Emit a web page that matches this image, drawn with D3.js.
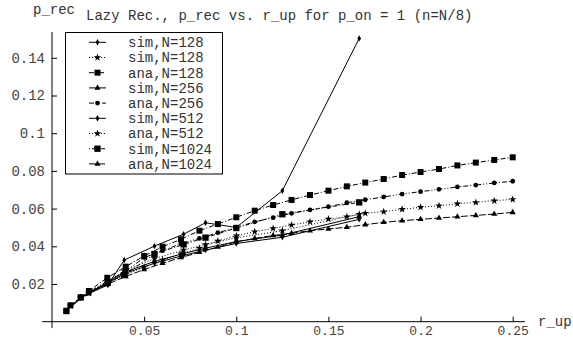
<!DOCTYPE html>
<html><head><meta charset="utf-8">
<script src="https://cdn.jsdelivr.net/npm/d3@7"></script>
<style>
body{margin:0;background:#fff;}
text{font-family:"Liberation Mono","Courier New",monospace;}
</style></head>
<body><svg id="c" width="573" height="341"></svg>
<script>
// ---- data ----
const title = "Lazy Rec., p_rec vs. r_up for p_on = 1 (n=N/8)";
const yLabel = "p_rec";
const xLabel = "r_up";
const xTicks = [0.05, 0.1, 0.15, 0.2, 0.25];
const yTicks = [0.02, 0.04, 0.06, 0.08, 0.1, 0.12, 0.14];
const legendLabels = ["sim,N=128","sim,N=128","ana,N=128","sim,N=256","ana,N=256","sim,N=512","ana,N=512","sim,N=1024","ana,N=1024"];

const simX = [0.0078, 0.0156, 0.0303, 0.0392, 0.0556, 0.0714, 0.0833, 0.1, 0.125, 0.1667];
const sim128  = [0.0055, 0.0130, 0.0195, 0.0327, 0.0401, 0.0464, 0.0525, 0.0500, 0.0695, 0.1503];
const sim128b = [0.0056, 0.0128, 0.0215, 0.0270, 0.0335, 0.0380, 0.0410, 0.0445, 0.0483, 0.0570];
const sim256  = [0.0056, 0.0127, 0.0210, 0.0262, 0.0320, 0.0362, 0.0390, 0.0425, 0.0460, 0.0557];
const sim512  = [0.0055, 0.0126, 0.0205, 0.0255, 0.0310, 0.0352, 0.0380, 0.0415, 0.0448, 0.0543];
const sim1024 = [0.0057, 0.0129, 0.0207, 0.0248, 0.0359, 0.0410, 0.0446, 0.0497, 0.0570, 0.0633];

const anaX = [0.01,0.02,0.03,0.04,0.05,0.06,0.07,0.08,0.09,0.10,0.11,0.12,0.13,0.14,0.15,0.16,0.17,0.18,0.19,0.20,0.21,0.22,0.23,0.24,0.25];
const ana128  = [0.0087,0.0163,0.0233,0.0292,0.0349,0.0398,0.0437,0.0483,0.0518,0.0554,0.0589,0.0619,0.0646,0.0672,0.0695,0.0718,0.0738,0.0757,0.0778,0.0794,0.0810,0.0829,0.0844,0.0858,0.0872];
const ana256  = [0.0086,0.0157,0.0215,0.0268,0.0340,0.0377,0.0414,0.0442,0.0472,0.0500,0.0530,0.0552,0.0575,0.0593,0.0610,0.0631,0.0647,0.0662,0.0677,0.0690,0.0702,0.0715,0.0725,0.0736,0.0745];
const ana512  = [0.0084,0.0152,0.0205,0.0250,0.0290,0.0327,0.0360,0.0390,0.0428,0.0456,0.0477,0.0495,0.0513,0.0530,0.0545,0.0557,0.0575,0.0584,0.0596,0.0607,0.0615,0.0626,0.0633,0.0642,0.0649];
const ana1024 = [0.0083,0.0148,0.0198,0.0240,0.0277,0.0310,0.0340,0.0368,0.0396,0.0424,0.0442,0.0457,0.0469,0.0483,0.0492,0.0501,0.0515,0.0527,0.0536,0.0543,0.0550,0.0557,0.0564,0.0571,0.0580];

// ---- styles (not data) ----
const styles = [
  {dash:null,          sym:d3.symbolDiamond,  size:12},
  {dash:"1,2",         sym:d3.symbolStar,     size:18},
  {dash:"5,2,1,2",     sym:d3.symbolSquare,   size:36},
  {dash:null,          sym:d3.symbolTriangle, size:16},
  {dash:"5,2,1,2,1,2", sym:d3.symbolCircle,   size:18},
  {dash:null,          sym:d3.symbolDiamond,  size:12},
  {dash:"1,2",         sym:d3.symbolStar,     size:18},
  {dash:"1,2,4,2",     sym:d3.symbolSquare,   size:40},
  {dash:"7,2",         sym:d3.symbolTriangle, size:16}
];
const seriesData = [
  [simX, sim128], [simX, sim128b], [anaX, ana128], [simX, sim256], [anaX, ana256],
  [simX, sim512], [anaX, ana512], [simX, sim1024], [anaX, ana1024]
];

const svg = d3.select("#c");
const x = d3.scaleLinear().domain([0, 0.25]).range([52, 512.7]);
const y = d3.scaleLinear().domain([0, 0.14]).range([321.7, 57.8]);

// axes lines
svg.append("line").attr("x1", x(-0.0054)).attr("x2", x(0.2566)).attr("y1", y(0)).attr("y2", y(0)).attr("stroke","#000");
svg.append("line").attr("x1", x(0)).attr("x2", x(0)).attr("y1", y(-0.0034)).attr("y2", y(0.1537)).attr("stroke","#000");

const minorX = [0.01,0.02,0.03,0.04,0.06,0.07,0.08,0.09,0.11,0.12,0.13,0.14,0.16,0.17,0.18,0.19,0.21,0.22,0.23,0.24];
const minorY = [0.005,0.01,0.015,0.025,0.03,0.035,0.045,0.05,0.055,0.065,0.07,0.075,0.085,0.09,0.095,0.105,0.11,0.115,0.125,0.13,0.135,0.145,0.15];

const gx = svg.append("g").attr("transform",`translate(0,${y(0)})`);
gx.call(d3.axisBottom(x).tickValues(minorX).tickSize(-3).tickFormat(""));
gx.call(d3.axisBottom(x).tickValues(xTicks).tickSize(-5).tickPadding(4).tickFormat(d3.format("")));
gx.selectAll(".domain").remove();
gx.selectAll("text").attr("font-size",13).attr("font-family","Liberation Mono").attr("fill","#444")
  .attr("dy","0.7em");

const gy = svg.append("g").attr("transform",`translate(${x(0)},0)`);
gy.call(d3.axisLeft(y).tickValues(minorY).tickSize(-3).tickFormat(""));
gy.call(d3.axisLeft(y).tickValues(yTicks).tickSize(-5).tickPadding(7).tickFormat(d3.format("")));
gy.selectAll(".domain").remove();
gy.selectAll("text").attr("font-size",14).attr("font-family","Liberation Mono").attr("fill","#444");

// series
const line = d3.line().x(d=>x(d[0])).y(d=>y(d[1]));
seriesData.forEach((s,i)=>{
  const pts = s[0].map((v,j)=>[v, s[1][j]]);
  const st = styles[i];
  svg.append("path").attr("d", line(pts)).attr("fill","none").attr("stroke","#000")
     .attr("stroke-width",1).attr("stroke-dasharray", st.dash);
  svg.append("g").selectAll("path").data(pts).join("path")
     .attr("transform", d=>`translate(${x(d[0])},${y(d[1])})`)
     .attr("d", d3.symbol().type(st.sym).size(st.size)).attr("fill","#000");
});

// legend
const lg = svg.append("g");
lg.append("rect").attr("x",65.5).attr("y",32.5).attr("width",157).attr("height",141.5)
  .attr("fill","#fff").attr("stroke","#000");
legendLabels.forEach((t,i)=>{
  const cy = 42.3 + i*15.2;
  const st = styles[i];
  lg.append("line").attr("x1",89).attr("x2",106).attr("y1",cy).attr("y2",cy)
    .attr("stroke","#000").attr("stroke-dasharray", st.dash);
  lg.append("path").attr("transform",`translate(97.5,${cy})`)
    .attr("d", d3.symbol().type(st.sym).size(st.size)).attr("fill","#000");
  lg.append("text").attr("x",128).attr("y",cy).attr("dy","0.35em")
    .attr("font-size",14).attr("fill","#333").text(t);
});

// titles
svg.append("text").attr("x",33).attr("y",14).attr("font-size",14).attr("fill","#333").text(yLabel);
svg.append("text").attr("x",86).attr("y",20).attr("font-size",14).attr("fill","#333").text(title);
svg.append("text").attr("x",538).attr("y",326).attr("font-size",14).attr("fill","#333").text(xLabel);
</script></body></html>
